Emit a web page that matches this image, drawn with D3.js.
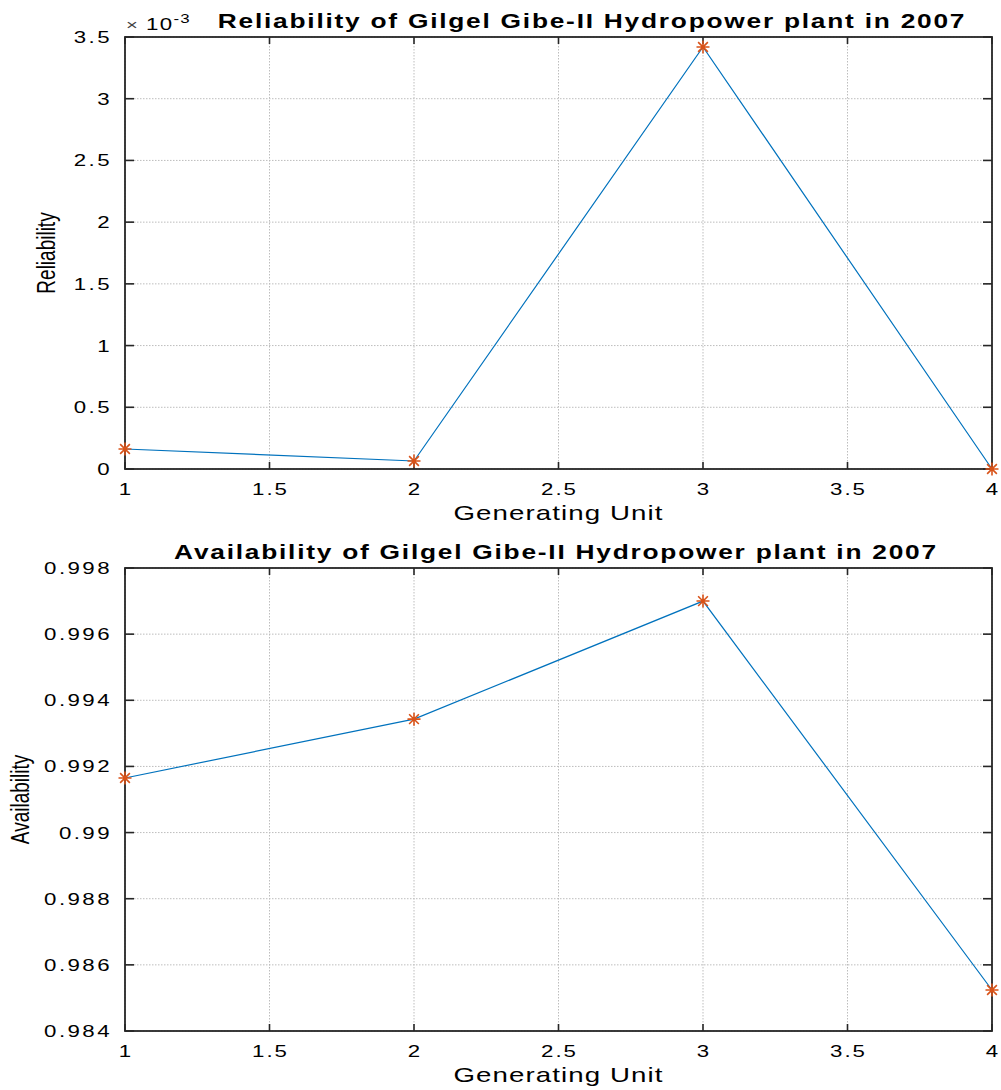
<!DOCTYPE html>
<html>
<head>
<meta charset="utf-8">
<script src="https://cdn.jsdelivr.net/npm/d3@7"></script>
<style>
  html, body { margin: 0; padding: 0; background: #fff; }
  svg { display: block; }
  text { font-family: "Liberation Sans", Arial, Helvetica, sans-serif; fill: #000; }
</style>
</head>
<body>
<div id="chart"></div>
<script>
// Generating units (x) shared by both panels
const units = [1, 2, 3, 4];
// Reliability per unit, in units of 1e-3
const reliability = [0.162, 0.065, 3.419, 0.0];
// Availability per unit
const availability = [0.99165, 0.99343, 0.9970, 0.98524];

const xTicks = [1, 1.5, 2, 2.5, 3, 3.5, 4];
const relTicks = [0, 0.5, 1, 1.5, 2, 2.5, 3, 3.5];
const availTicks = [0.984, 0.986, 0.988, 0.99, 0.992, 0.994, 0.996, 0.998];

const W = 1001, H = 1090;
const SX = 1.35;          // horizontal stretch applied to all text
const LS = 2;             // letter spacing for text (before stretch)
const AXIS = "#262626";
const LINE = "#0072BD";
const MARK = "#D95319";
const GRID = "#bdbdbd";

const svg = d3.select("#chart").append("svg")
  .attr("width", W).attr("height", H);

// stretched text helper
function label(g, x, y, str, opts = {}) {
  const t = g.append("text")
    .attr("transform", `translate(${x},${y}) scale(${SX},1)` + (opts.rotate ? ` rotate(${opts.rotate})` : ""))
    .attr("text-anchor", opts.anchor || "middle")
    .attr("font-size", opts.size || 16)
    .attr("font-weight", opts.weight || "normal")
    .style("letter-spacing", (opts.ls != null ? opts.ls : LS) + "px")
    .text(str);
  if (opts.dy) t.attr("dy", opts.dy);
  return t;
}

function panel(cfg) {
  const { top, bottom, values, yDomain, yTicks, yFmt, title, titleX, ylabel, ylabelX } = cfg;
  const left = 125, right = 992;
  const x = d3.scaleLinear().domain([1, 4]).range([left, right]);
  const y = d3.scaleLinear().domain(yDomain).range([bottom, top]);
  const g = svg.append("g");

  // grid
  g.append("g").selectAll("line.gx").data(xTicks).join("line")
    .attr("x1", d => x(d)).attr("x2", d => x(d))
    .attr("y1", top).attr("y2", bottom)
    .attr("stroke", GRID).attr("stroke-width", 1).attr("stroke-dasharray", "1.5,1.5");
  g.append("g").selectAll("line.gy").data(yTicks).join("line")
    .attr("y1", d => y(d)).attr("y2", d => y(d))
    .attr("x1", left).attr("x2", right)
    .attr("stroke", GRID).attr("stroke-width", 1).attr("stroke-dasharray", "1.5,1.5");

  // inward ticks on all four sides
  const tk = g.append("g").attr("stroke", AXIS).attr("stroke-width", 1.6);
  xTicks.forEach(d => {
    tk.append("line").attr("x1", x(d)).attr("x2", x(d)).attr("y1", bottom).attr("y2", bottom - 7);
    tk.append("line").attr("x1", x(d)).attr("x2", x(d)).attr("y1", top).attr("y2", top + 7);
  });
  yTicks.forEach(d => {
    tk.append("line").attr("y1", y(d)).attr("y2", y(d)).attr("x1", left).attr("x2", left + 9);
    tk.append("line").attr("y1", y(d)).attr("y2", y(d)).attr("x1", right).attr("x2", right - 9);
  });

  // box
  g.append("rect").attr("x", left).attr("y", top)
    .attr("width", right - left).attr("height", bottom - top)
    .attr("fill", "none").attr("stroke", AXIS).attr("stroke-width", 1.8);

  // tick labels
  xTicks.forEach(d => label(g, x(d) + 1, bottom + 26, d3.format("")(d), { size: 16.5, ls: 1.5 }));
  yTicks.forEach(d => label(g, left - 13, y(d), yFmt(d), { size: 16.5, anchor: "end", dy: "0.36em", ls: 1.8 }));

  // axis titles
  label(g, (left + right) / 2, bottom + 51, "Generating Unit", { size: 20.5, ls: 0.8 });
  label(g, ylabelX, (top + bottom) / 2, ylabel, { size: 19, rotate: -90, ls: 0 });
  label(g, titleX, top - 9, title, { size: 19.5, weight: "bold", ls: 1.3 });

  // data line
  const pts = units.map((u, i) => [x(u), y(values[i])]);
  g.append("path").attr("d", d3.line()(pts))
    .attr("fill", "none").attr("stroke", LINE).attr("stroke-width", 1.2);

  // asterisk markers
  const r = 6.5, rd = r * 0.75;
  const mk = g.append("g").attr("stroke", MARK).attr("stroke-width", 1.6).attr("fill", "none");
  pts.forEach(([px, py]) => {
    const p = d3.path();
    p.moveTo(px - r, py); p.lineTo(px + r, py);
    p.moveTo(px, py - r); p.lineTo(px, py + r);
    p.moveTo(px - rd, py - rd); p.lineTo(px + rd, py + rd);
    p.moveTo(px - rd, py + rd); p.lineTo(px + rd, py - rd);
    mk.append("path").attr("d", p.toString());
  });
  return { g, x, y, left, top };
}

const p1 = panel({
  top: 37, bottom: 469, values: reliability, yDomain: [0, 3.5], yTicks: relTicks,
  yFmt: d3.format(""), title: "Reliability of Gilgel Gibe-II Hydropower plant in 2007",
  titleX: 592, ylabel: "Reliability", ylabelX: 55
});
// exponent annotation for the reliability axis
const ex = p1.g.append("text")
  .attr("transform", `translate(${p1.left + 1},${p1.top - 7}) scale(${SX},1)`)
  .attr("font-size", 16.5).style("letter-spacing", "1px");
ex.append("tspan").attr("font-size", 15).attr("fill", "#444").text("\u00D7");
ex.append("tspan").attr("dx", 5).text("10");
ex.append("tspan").attr("font-size", 12.5).attr("dy", -7).text("-3");

panel({
  top: 568, bottom: 1031, values: availability, yDomain: [0.984, 0.998], yTicks: availTicks,
  yFmt: d3.format(".3~f"), title: "Availability of Gilgel Gibe-II Hydropower plant in 2007",
  titleX: 556, ylabel: "Availability", ylabelX: 29
});
</script>
</body>
</html>
